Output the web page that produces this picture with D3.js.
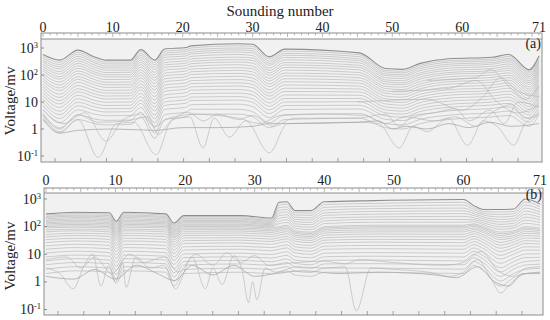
<!DOCTYPE html>
<html>
<head>
<meta charset="utf-8">
<title>Sounding profiles</title>
<style>
  body { margin: 0; background: #fff; }
</style>
</head>
<body>
<div id="chart"></div>
<script src="https://cdn.jsdelivr.net/npm/d3@7/dist/d3.min.js"></script>
<script>
// values are log10 of voltage (mV) per sounding number,
// one row per sounding, one column per time gate (early -> late)

// ---- panel (a) ----
const soundA = [0, 2.4, 5, 7.4, 9, 12.5, 14, 16, 17.4, 20.5, 21.2, 28, 30, 32.4, 34.6, 45.3, 49, 51.5, 54, 58, 64.3, 66.7, 69.6, 71];
const gatesA = [
  [2.76,2.69,2.62,2.55,2.48,2.39,2.31,2.23,2.15,2.05,1.96,1.86,1.77,1.66,1.56,1.45,1.34,1.23,1.11,0.99,0.87,0.73,0.57,0.40],
  [2.55,2.47,2.39,2.31,2.23,2.13,2.04,1.94,1.85,1.74,1.63,1.52,1.42,1.29,1.17,1.05,0.93,0.80,0.66,0.53,0.39,0.23,0.04,-0.15],
  [2.92,2.84,2.77,2.69,2.61,2.52,2.43,2.34,2.25,2.15,2.05,1.94,1.84,1.73,1.61,1.49,1.38,1.25,1.12,0.99,0.86,0.71,0.53,0.35],
  [2.67,2.60,2.52,2.45,2.37,2.29,2.20,2.11,2.03,1.93,1.83,1.73,1.63,1.52,1.41,1.30,1.19,1.06,0.94,0.82,0.69,0.55,0.37,0.20],
  [2.55,2.48,2.41,2.33,2.26,2.18,2.09,2.01,1.93,1.83,1.73,1.64,1.54,1.43,1.33,1.22,1.11,0.99,0.87,0.75,0.63,0.49,0.32,0.15],
  [2.55,2.48,2.41,2.34,2.26,2.18,2.10,2.01,1.93,1.84,1.74,1.64,1.55,1.44,1.33,1.23,1.12,1.00,0.88,0.76,0.64,0.50,0.33,0.17],
  [2.94,2.87,2.79,2.72,2.64,2.55,2.47,2.38,2.29,2.19,2.09,1.99,1.89,1.78,1.67,1.56,1.45,1.32,1.20,1.07,0.95,0.80,0.62,0.45],
  [2.55,2.46,2.38,2.29,2.20,2.10,2.00,1.90,1.80,1.68,1.56,1.45,1.33,1.20,1.07,0.94,0.81,0.67,0.52,0.38,0.23,0.06,-0.15,-0.35],
  [2.96,2.88,2.80,2.73,2.65,2.56,2.46,2.37,2.28,2.18,2.07,1.97,1.86,1.75,1.63,1.51,1.39,1.26,1.13,1.00,0.87,0.72,0.53,0.35],
  [3.02,2.94,2.87,2.79,2.71,2.62,2.53,2.44,2.35,2.25,2.15,2.04,1.94,1.83,1.71,1.59,1.48,1.35,1.22,1.09,0.96,0.81,0.63,0.45],
  [3.08,3.00,2.93,2.85,2.78,2.69,2.60,2.51,2.42,2.32,2.22,2.12,2.02,1.90,1.79,1.68,1.56,1.44,1.31,1.18,1.06,0.90,0.73,0.55],
  [3.16,3.08,3.00,2.93,2.85,2.76,2.66,2.57,2.48,2.38,2.27,2.17,2.06,1.95,1.83,1.71,1.59,1.46,1.33,1.20,1.07,0.92,0.73,0.55],
  [3.14,3.06,2.98,2.90,2.82,2.72,2.63,2.54,2.44,2.33,2.23,2.12,2.01,1.89,1.77,1.65,1.53,1.39,1.26,1.12,0.99,0.83,0.64,0.45],
  [2.67,2.59,2.51,2.43,2.36,2.26,2.17,2.08,1.99,1.88,1.78,1.67,1.57,1.45,1.33,1.22,1.10,0.97,0.84,0.71,0.57,0.42,0.23,0.05],
  [2.96,2.88,2.80,2.73,2.65,2.56,2.46,2.37,2.28,2.18,2.07,1.97,1.86,1.75,1.63,1.51,1.39,1.26,1.13,1.00,0.87,0.72,0.53,0.35],
  [2.82,2.75,2.68,2.60,2.53,2.45,2.36,2.28,2.19,2.09,2.00,1.90,1.80,1.70,1.59,1.48,1.37,1.25,1.13,1.01,0.88,0.74,0.57,0.40],
  [2.24,2.17,2.11,2.04,1.98,1.90,1.82,1.75,1.67,1.58,1.50,1.41,1.32,1.22,1.12,1.03,0.93,0.82,0.71,0.60,0.49,0.36,0.20,0.05],
  [2.21,2.14,2.08,2.01,1.95,1.87,1.79,1.71,1.64,1.55,1.46,1.37,1.28,1.18,1.08,0.98,0.88,0.77,0.66,0.55,0.44,0.31,0.15,0.00],
  [2.43,2.36,2.30,2.23,2.16,2.08,2.01,1.93,1.85,1.76,1.67,1.58,1.49,1.39,1.29,1.19,1.09,0.98,0.87,0.76,0.65,0.51,0.36,0.20],
  [2.60,2.53,2.47,2.40,2.33,2.25,2.17,2.09,2.02,1.93,1.84,1.75,1.66,1.55,1.45,1.35,1.25,1.14,1.03,0.91,0.80,0.67,0.51,0.35],
  [2.66,2.59,2.53,2.46,2.40,2.32,2.24,2.16,2.09,2.00,1.91,1.82,1.73,1.63,1.53,1.43,1.33,1.22,1.11,1.00,0.89,0.76,0.60,0.45],
  [2.76,2.69,2.62,2.56,2.49,2.41,2.33,2.25,2.17,2.08,1.99,1.90,1.81,1.71,1.61,1.51,1.40,1.29,1.18,1.07,0.95,0.82,0.66,0.50],
  [2.19,2.13,2.07,2.00,1.94,1.87,1.79,1.72,1.65,1.56,1.48,1.40,1.31,1.22,1.12,1.03,0.94,0.83,0.73,0.62,0.52,0.39,0.25,0.10],
  [2.70,2.64,2.57,2.51,2.44,2.37,2.29,2.22,2.14,2.06,1.97,1.88,1.80,1.70,1.60,1.51,1.41,1.30,1.20,1.09,0.98,0.85,0.70,0.55]
];
// late gates that wander (sounding number, log10 V)
const noisyA = [
  [[0,0.5],[2.4,-0.1],[5,0.35],[7.9,-1.05],[10.5,0.2],[13,0.25],[16.2,-0.95],[18.5,0.35],[21,0.45],[22.9,-0.7],[24.5,0.4],[26.7,-0.3],[29,0.3],[32.4,-0.88],[35,0.2],[45,0.25],[48,0.2],[51,-0.7],[53,0.1],[55,-0.1],[58,0.4],[60.8,-0.6],[63,0.3],[65,0.1],[67.4,-0.6],[69,0.2],[71,0.5]],
  [[0,0.35],[2.4,-0.15],[5,-0.05],[10,0.0],[16,-0.05],[20,0.05],[25,0.05],[30,0.1],[32.4,0.2],[35,0.2],[45,0.25],[48,0.3],[50,0.0],[52,0.1],[55,0.0],[58,0.2],[61,0.05],[64,0.25],[67,0.1],[71,0.2]],
  [[0,0.55],[2.4,0.0],[5,0.52],[8,0.25],[12,0.3],[15,0.45],[16.5,-0.2],[18,0.2],[20.7,0.62],[23,0.3],[25,0.55],[28,0.35],[30,0.5],[33,0.1],[36,0.4],[45,0.4],[49,0.55],[51,0.1],[53,0.5],[56,0.6],[59,0.75],[61,0.3],[64,0.7],[66,0.2],[68,1.0],[71,0.8]],
  [[0,0.7],[3,0.2],[6,0.6],[9,-0.45],[11.5,0.35],[14,0.55],[16,0.1],[18,0.4],[22,0.55],[25,0.5],[28,0.4],[31,0.2],[34,0.5],[40,0.55],[46,0.5],[49,0.2],[52,0.45],[56,0.3],[59,0.45],[62,0.1],[64,0.55],[67,0.9],[69,0.4],[71,0.6]],
  [[45,1.0],[55,1.1],[60,0.7],[63,1.2],[65.5,1.9],[68,1.4],[71,1.2]],
  [[50,1.4],[58,1.5],[62,1.8],[65,1.0],[68,0.6],[71,0.9]],
  [[55,1.8],[62,1.9],[64,2.2],[67,1.5],[69,1.1],[71,1.6]]
];

// ---- panel (b) ----
const soundB = [0, 4.3, 9.1, 10.1, 11.2, 17.2, 18.4, 19.8, 28, 32.4, 33.5, 34.6, 35.8, 38.1, 40, 47.2, 60, 61.5, 62.9, 65.3, 67.2, 68.9, 71];
const gatesB = [
  [2.46,2.42,2.37,2.33,2.28,2.23,2.19,2.14,2.10,2.05,2.00,1.95,1.88,1.81,1.72,1.63,1.53,1.42,1.30,1.18,1.04,0.90,0.76,0.62,0.46,0.30],
  [2.52,2.47,2.42,2.38,2.33,2.28,2.23,2.18,2.13,2.08,2.03,1.98,1.91,1.85,1.76,1.68,1.58,1.48,1.36,1.24,1.11,0.97,0.84,0.70,0.55,0.40],
  [2.50,2.45,2.40,2.35,2.30,2.25,2.20,2.15,2.10,2.05,2.00,1.95,1.88,1.81,1.73,1.64,1.54,1.44,1.32,1.20,1.06,0.93,0.79,0.66,0.50,0.35],
  [2.19,2.14,2.09,2.05,2.00,1.95,1.90,1.85,1.80,1.75,1.70,1.64,1.57,1.50,1.41,1.32,1.21,1.10,0.98,0.85,0.71,0.56,0.42,0.27,0.11,-0.05],
  [2.52,2.47,2.42,2.38,2.33,2.28,2.23,2.18,2.13,2.08,2.03,1.98,1.91,1.85,1.76,1.68,1.58,1.48,1.36,1.24,1.11,0.97,0.84,0.70,0.55,0.40],
  [2.46,2.42,2.37,2.33,2.28,2.23,2.19,2.14,2.10,2.05,2.00,1.95,1.88,1.81,1.73,1.64,1.54,1.44,1.32,1.20,1.06,0.93,0.79,0.66,0.50,0.35],
  [2.13,2.08,2.04,1.99,1.94,1.89,1.85,1.80,1.75,1.70,1.64,1.59,1.52,1.44,1.35,1.26,1.15,1.03,0.90,0.78,0.63,0.48,0.33,0.18,0.02,-0.15],
  [2.40,2.36,2.31,2.27,2.22,2.18,2.14,2.09,2.05,2.00,1.95,1.90,1.83,1.76,1.68,1.59,1.49,1.39,1.27,1.15,1.01,0.88,0.74,0.61,0.45,0.30],
  [2.40,2.36,2.31,2.27,2.22,2.18,2.14,2.09,2.05,2.00,1.95,1.90,1.84,1.77,1.69,1.60,1.51,1.41,1.29,1.18,1.04,0.91,0.78,0.65,0.50,0.35],
  [2.31,2.27,2.23,2.19,2.15,2.11,2.07,2.03,1.99,1.95,1.90,1.85,1.79,1.72,1.64,1.55,1.46,1.36,1.24,1.13,0.99,0.86,0.73,0.60,0.45,0.30],
  [2.88,2.78,2.69,2.59,2.49,2.40,2.30,2.20,2.11,2.00,1.95,1.90,1.84,1.77,1.69,1.60,1.51,1.41,1.29,1.18,1.04,0.91,0.78,0.65,0.50,0.35],
  [2.90,2.81,2.71,2.62,2.53,2.43,2.34,2.25,2.15,2.05,2.00,1.95,1.89,1.82,1.74,1.65,1.56,1.46,1.34,1.23,1.09,0.96,0.83,0.70,0.55,0.40],
  [2.58,2.50,2.42,2.34,2.26,2.18,2.10,2.02,1.94,1.85,1.80,1.75,1.69,1.63,1.55,1.47,1.37,1.27,1.16,1.05,0.92,0.79,0.67,0.54,0.39,0.25],
  [2.58,2.49,2.41,2.32,2.24,2.15,2.07,1.98,1.89,1.80,1.75,1.70,1.64,1.58,1.50,1.42,1.32,1.22,1.11,1.00,0.87,0.74,0.62,0.49,0.34,0.20],
  [2.90,2.80,2.70,2.60,2.50,2.41,2.31,2.21,2.11,2.00,1.95,1.90,1.84,1.77,1.69,1.60,1.51,1.41,1.29,1.18,1.04,0.91,0.78,0.65,0.50,0.35],
  [2.94,2.84,2.74,2.65,2.55,2.45,2.35,2.26,2.16,2.05,2.00,1.95,1.88,1.81,1.73,1.64,1.54,1.44,1.32,1.20,1.06,0.93,0.79,0.66,0.50,0.35],
  [2.98,2.88,2.78,2.67,2.57,2.47,2.37,2.26,2.16,2.05,2.00,1.95,1.88,1.81,1.72,1.63,1.53,1.42,1.30,1.18,1.04,0.90,0.76,0.62,0.46,0.30],
  [2.76,2.69,2.62,2.54,2.47,2.40,2.32,2.25,2.18,2.10,2.06,2.01,1.95,1.89,1.82,1.74,1.65,1.56,1.46,1.35,1.23,1.11,0.99,0.87,0.74,0.60],
  [2.62,2.55,2.48,2.42,2.35,2.28,2.21,2.14,2.07,2.00,1.95,1.90,1.84,1.78,1.70,1.62,1.52,1.42,1.31,1.20,1.07,0.94,0.82,0.69,0.54,0.40],
  [2.62,2.53,2.44,2.35,2.26,2.17,2.08,1.99,1.90,1.80,1.74,1.68,1.61,1.53,1.43,1.33,1.22,1.10,0.96,0.83,0.67,0.51,0.36,0.20,0.03,-0.15],
  [2.64,2.55,2.47,2.38,2.29,2.21,2.12,2.03,1.95,1.85,1.80,1.75,1.68,1.61,1.53,1.44,1.34,1.24,1.12,1.00,0.86,0.73,0.59,0.46,0.30,0.15],
  [3.00,2.89,2.78,2.67,2.56,2.45,2.34,2.23,2.12,2.00,1.95,1.90,1.83,1.76,1.68,1.59,1.49,1.39,1.27,1.15,1.01,0.88,0.74,0.61,0.45,0.30],
  [2.82,2.72,2.63,2.53,2.44,2.34,2.25,2.15,2.05,1.95,1.90,1.85,1.79,1.73,1.65,1.57,1.47,1.37,1.26,1.15,1.02,0.89,0.77,0.64,0.49,0.35]
];
const noisyB = [
  [[0,0.5],[2,0.3],[3.9,-0.25],[5.5,0.6],[6.7,1.0],[7.9,-0.15],[9,0.6],[10,0.0],[11,0.7],[11.5,-0.2],[12.9,0.9],[15,0.5],[17,0.6],[18.6,-0.25],[21,0.9],[22.9,-0.25],[24,0.5],[25.3,-0.1],[27,0.95],[28.2,0.4],[29.1,-0.75],[29.7,0.0],[30.3,-0.65],[31.5,0.5],[33,0.35],[36,0.55],[40,0.5],[43,0.55],[44.6,-1.05],[46.7,0.5],[50,0.45],[55,0.35],[58,0.2],[60,0.35],[62,0.8],[64,0.1],[65.3,-0.4],[67,0.0],[69,0.3],[71,0.35]],
  [[0,0.2],[4,0.1],[7,0.45],[10,0.1],[13,0.6],[16,0.3],[18.5,0.05],[21,0.6],[24,0.25],[27,0.6],[30,0.2],[33,0.3],[37,0.4],[42,0.3],[48,0.35],[56,0.25],[59,0.15],[62,0.55],[64.5,0.0],[66.5,-0.15],[68.5,0.3],[71,0.3]],
  [[0,0.8],[3,0.9],[5,0.5],[7,0.9],[9.5,0.3],[12,1.0],[14,0.7],[17,0.9],[19,0.35],[21.5,1.0],[24,0.6],[26,1.05],[28,0.7],[30,0.95],[32,0.6],[36,0.7],[40,0.75],[43,0.65],[45,0.8],[50,0.7],[57,0.6],[60,0.7],[62.5,1.1],[65,0.4],[67,0.2],[69,0.5],[71,0.55]]
];

const xTicks = [0, 10, 20, 30, 40, 50, 60, 71];
const yTicks = [3, 2, 1, 0, -1];
const yTickLabels = [["10", "3"], ["10", "2"], ["10", ""], ["1", ""], ["10", "-1"]];

const FONT = "'Liberation Serif', 'DejaVu Serif', 'Times New Roman', serif";
const W = 550, H = 320;
const svg = d3.select('#chart').append('svg')
  .attr('width', W).attr('height', H)
  .style('font-family', FONT);

const panels = [
  { id: 'a', label: '(a)', sound: soundA, gates: gatesA, noisy: noisyA,
    x0: 41, x1: 542, y0: 33, yr: 39, y1: 162, xr: [43, 539], yr3: 48, yrm1: 156,
    botTicks: [55, 518], labelY: 48, numY: 31.5, ylabY: 101 },
  { id: 'b', label: '(b)', sound: soundB, gates: gatesB, noisy: noisyB,
    x0: 44, x1: 543, y0: 188, yr: 193, y1: 315, xr: [46, 540], yr3: 199, yrm1: 309.5,
    botTicks: [58, 522], labelY: 199, numY: 185, ylabY: 256 }
];

panels.forEach(p => {
  const x = d3.scaleLinear().domain([0, 71]).range(p.xr);
  const y = d3.scaleLinear().domain([3, -1]).range([p.yr3, p.yrm1]);
  const g = svg.append('g');

  g.append('rect')
    .attr('x', p.x0).attr('y', p.yr)
    .attr('width', p.x1 - p.x0).attr('height', p.y1 - p.yr)
    .attr('fill', '#f1f1f1');

  g.append('clipPath').attr('id', 'clip-' + p.id)
    .append('rect')
    .attr('x', p.x0).attr('y', p.yr)
    .attr('width', p.x1 - p.x0).attr('height', p.y1 - p.yr);

  const plot = g.append('g').attr('clip-path', 'url(#clip-' + p.id + ')');

  // one line per time gate, running along the profile
  const nGates = p.gates[0].length;
  const line = d3.line()
    .x(d => x(d[0]))
    .y(d => y(d[1]))
    .curve(d3.curveMonotoneX);

  p.noisy.forEach((s, i) => {
    plot.append('path')
      .attr('d', line(s))
      .attr('fill', 'none')
      .attr('stroke', i === 1 ? '#a0a0a0' : '#bababa')
      .attr('stroke-width', 0.7);
  });

  d3.range(nGates).forEach(k => {
    const pts = p.sound.map((n, j) => [n, p.gates[j][k]]);
    plot.append('path')
      .attr('d', line(pts))
      .attr('fill', 'none')
      .attr('stroke', k === 0 ? '#8e8e8e' : '#b0b0b0')
      .attr('stroke-width', k === 0 ? 1.1 : 0.6);
  });

  // frame
  g.append('rect')
    .attr('x', p.x0).attr('y', p.y0)
    .attr('width', p.x1 - p.x0).attr('height', p.y1 - p.y0)
    .attr('fill', 'none').attr('stroke', '#8c8c8c').attr('stroke-width', 1);
  g.append('line')
    .attr('x1', p.x0).attr('x2', p.x1)
    .attr('y1', p.yr).attr('y2', p.yr)
    .attr('stroke', '#8c8c8c');

  // ruler ticks along the top
  const rule = d3.range(0, 72);
  g.selectAll('.rt').data(rule).enter().append('line')
    .attr('x1', d => x(d)).attr('x2', d => x(d))
    .attr('y1', p.y0).attr('y2', d => p.y0 + (d % 5 === 0 ? 4 : 2.5))
    .attr('stroke', '#999').attr('stroke-width', 0.7);

  // top numbers
  g.selectAll('.xt').data(xTicks).enter().append('text')
    .attr('x', d => x(d)).attr('y', p.numY)
    .attr('text-anchor', 'middle')
    .attr('font-size', 14)
    .attr('fill', '#222')
    .text(d => d);

  // bottom ticks
  const xb = d3.scaleLinear().domain([0, 18]).range(p.botTicks);
  g.selectAll('.bt').data(d3.range(19)).enter().append('line')
    .attr('x1', d => xb(d)).attr('x2', d => xb(d))
    .attr('y1', p.y1).attr('y2', p.y1 - 4)
    .attr('stroke', '#8c8c8c').attr('stroke-width', 0.8);

  // y ticks and labels
  g.selectAll('.yt').data(yTicks).enter().append('line')
    .attr('x1', p.x0).attr('x2', p.x0 + 3)
    .attr('y1', d => y(d)).attr('y2', d => y(d))
    .attr('stroke', '#8c8c8c');

  yTicks.forEach((t, i) => {
    const lab = yTickLabels[i];
    const txt = g.append('text')
      .attr('x', p.x0 - 3).attr('y', y(t) + 4.5)
      .attr('text-anchor', 'end')
      .attr('font-size', 14)
      .attr('fill', '#222');
    txt.append('tspan').text(lab[0]);
    if (lab[1]) {
      txt.append('tspan').attr('dy', -5).attr('font-size', 8.5).text(lab[1]);
    }
  });

  g.append('text')
    .attr('transform', 'translate(15,' + p.ylabY + ') rotate(-90)')
    .attr('text-anchor', 'middle')
    .attr('font-size', 15)
    .attr('fill', '#222')
    .text('Voltage/mv');

  g.append('text')
    .attr('x', p.x1 - 1).attr('y', p.labelY)
    .attr('text-anchor', 'end')
    .attr('font-size', 14)
    .attr('fill', '#222')
    .text(p.label);
});

svg.append('text')
  .attr('x', 280).attr('y', 16)
  .attr('text-anchor', 'middle')
  .attr('font-size', 15)
  .attr('fill', '#222')
  .text('Sounding number');
</script>
</body>
</html>
